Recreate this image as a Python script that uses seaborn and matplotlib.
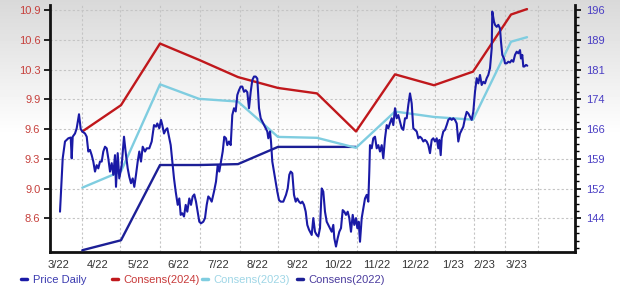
import numpy as np
import pandas as pd
import matplotlib
matplotlib.use("Agg")
import matplotlib.pyplot as plt
from matplotlib.lines import Line2D
from matplotlib.ticker import FixedLocator, AutoMinorLocator
import seaborn as sns

# ---------------- data ----------------
month_labels = ["3/22", "4/22", "5/22", "6/22", "7/22", "8/22", "9/22", "10/22",
                "11/22", "12/22", "1/23", "2/23", "3/23"]
label_pos = [9, 48, 88, 128, 168, 207, 247, 288, 327, 365, 403, 434, 466]
grid_pos = [32, 70, 110, 150, 190, 228, 268, 307, 346, 385, 424, 455, 488]

left_tick_labels = ["10.9", "10.6", "10.3", "9.9", "9.6", "9.3", "9.0", "8.6"]
right_tick_labels = ["196", "189", "181", "174", "166", "159", "152", "144"]

cons_pos = [32.3, 71, 110, 149, 188, 228, 267, 306, 345, 384, 423, 461, 477]
cons_2024 = [9.56, 9.85, 10.53, 10.35, 10.16, 10.04, 9.98, 9.56, 10.19, 10.07, 10.22, 10.85, 10.91]
cons_2023 = [8.94, 9.12, 10.08, 9.92, 9.89, 9.50, 9.49, 9.38, 9.78, 9.72, 9.69, 10.55, 10.60]
cons_2022 = [8.25, 8.36, 9.19, 9.19, 9.20, 9.39, 9.39, 9.39]

price_pos = [10.0, 12.7, 15.0, 18.3, 20.7, 21.7, 22.7, 25.0, 26.7, 29.0, 30.7, 32.3, 35.0, 36.7,
             38.3, 40.0, 41.7, 43.3, 45.0, 46.7, 48.3, 50.0, 51.7, 53.3, 55.0, 56.7, 58.3, 60.0,
             61.7, 63.3, 65.0, 66.0, 67.7, 69.3, 71.7, 74.0, 76.0, 77.7, 79.3, 81.0, 82.7, 84.3,
             86.0, 87.7, 89.3, 91.0, 92.7, 95.0, 96.7, 99.3, 101.7, 104.0, 106.0, 107.3, 109.3,
             111.0, 112.3, 114.0, 115.7, 117.3, 119.0, 120.7, 122.3, 124.0, 125.7, 127.7, 129.3,
             130.7, 132.3, 134.0, 135.7, 137.3, 139.3, 141.0, 142.7, 144.3, 146.0, 147.7, 149.3,
             151.0, 153.3, 155.0, 156.7, 158.3, 160.0, 161.7, 164.0, 166.0, 167.7, 169.3, 171.0,
             172.7, 174.3, 176.0, 177.3, 179.0, 180.7, 182.3, 184.0, 185.7, 187.3, 189.0, 190.7,
             192.3, 194.0, 195.7, 197.3, 199.0, 200.7, 202.3, 204.0, 205.7, 207.3, 209.0, 210.7,
             212.3, 214.0, 215.7, 217.3, 218.3, 220.0, 221.0, 222.3, 224.0, 225.7, 227.3, 229.0,
             230.7, 233.3, 236.0, 237.7, 239.3, 240.7, 242.3, 244.0, 245.7, 247.3, 249.0, 250.7,
             252.3, 254.0, 255.7, 257.3, 259.0,
             260.0, 261.7, 263.3, 265.0, 266.7, 268.3, 270.0, 271.7, 273.3, 275.0, 276.7, 278.3,
             280.0, 281.7, 283.3, 284.3, 286.0, 287.7, 289.3, 291.0, 292.7, 294.3, 296.0, 297.7,
             299.3, 301.0, 302.7, 304.3, 306.0, 307.3, 308.7, 310.0, 311.7, 313.3, 315.0, 316.7,
             318.3, 319.3, 320.0, 321.7, 323.3, 325.0, 326.7, 328.3, 330.0, 331.7, 333.3, 335.0,
             336.7, 338.3, 340.0, 341.7, 343.3, 345.0, 346.7, 348.3, 350.0, 351.7, 353.3, 355.0,
             356.7, 358.3, 360.0, 361.7, 363.3, 365.0, 366.7, 368.3, 370.0, 371.7, 373.3, 375.0,
             376.7, 378.3, 380.0, 381.7, 383.3, 385.0, 386.7, 388.3, 389.3, 390.7, 391.7, 393.3,
             395.0, 396.7, 398.3, 400.0, 401.7, 403.3, 405.0, 406.7, 408.3, 410.0, 411.7, 413.3,
             415.0, 416.7, 418.3, 420.0, 421.7, 423.3, 425.0, 426.7, 428.3, 430.0, 431.7, 433.3,
             435.0, 436.7, 438.3, 440.0, 441.7, 442.3, 444.0, 445.0, 446.7, 448.3, 450.0, 451.0,
             452.3, 454.0, 455.0, 456.7, 458.3, 460.0, 461.7, 463.3, 465.0, 466.7, 468.3, 470.0,
             471.0, 472.3, 473.3, 474.3, 476.0, 477.3]
price_val = [145.7, 159.0, 163.2, 164.0, 164.2, 159.0, 164.4, 165.2, 166.5, 170.0, 166.3, 165.7,
             165.2, 164.4, 160.7, 161.1, 159.8, 158.2, 155.7, 157.3, 156.5, 158.2, 158.2, 160.7,
             161.9, 161.5, 159.0, 155.7, 157.8, 154.9, 159.8, 151.9, 160.3, 154.0, 157.3, 164.4,
             159.8, 156.5, 154.4, 152.8, 154.0, 151.9, 154.9, 158.2, 160.7, 158.2, 161.9, 160.7,
             161.5, 161.5, 163.2, 167.3, 166.9, 167.7, 166.5, 168.6, 167.3, 165.2, 166.1, 166.5,
             164.4, 162.3, 158.2, 154.0, 150.7, 147.4, 149.0, 144.9, 145.3, 144.5, 147.4, 145.7,
             149.0, 147.4, 149.5, 150.0, 148.2, 145.7, 143.2, 142.8, 143.2, 144.1, 147.4, 149.5,
             149.0, 148.2, 150.7, 153.2, 157.3, 155.7, 158.2, 160.7, 164.4, 164.0, 162.3, 163.2,
             162.3, 169.8, 171.5, 170.7, 174.8, 176.0, 176.9, 176.9, 175.6, 176.0, 175.5, 171.5,
             175.6, 178.5, 179.4, 179.4, 178.9, 171.5, 169.0, 168.2, 167.3, 166.5, 165.7, 164.0,
             165.7, 163.2, 158.2, 155.7, 153.2, 150.7, 148.6, 148.2, 148.2, 149.9, 151.5, 154.9,
             155.7, 155.3, 149.9, 148.2, 149.0, 148.2, 147.8, 148.2, 147.4, 145.7, 142.4, 141.2,
             140.7, 139.9, 144.1, 140.7, 139.9, 139.5, 141.6, 151.5, 150.7, 145.7, 143.2, 142.4,
             141.6, 140.7, 142.4, 139.1, 137.0, 139.1, 140.7, 141.6, 146.1, 145.7, 144.9, 145.7,
             144.1, 140.7, 144.9, 142.4, 144.1, 141.6, 143.2, 138.2, 144.1, 146.5, 149.0, 149.9,
             148.2, 155.7, 162.3, 161.5, 164.0, 164.4, 161.5, 162.3, 160.7, 162.3, 159.0, 164.0,
             167.3, 166.5, 167.8, 169.0, 167.3, 171.5, 169.0, 169.8, 168.2, 166.5, 166.1, 169.0,
             169.0, 172.3, 175.2, 172.7, 166.5, 166.1, 165.7, 164.0, 164.4, 164.0, 163.2, 163.6,
             163.2, 162.3, 160.3, 163.6, 164.0, 163.2, 164.0, 161.5, 163.6, 159.8, 164.0, 165.7,
             166.1, 167.3, 168.6, 169.0, 168.6, 169.0, 168.6, 167.7, 163.2, 165.2, 166.1, 166.9,
             169.0, 170.6, 170.2, 169.4, 168.6, 170.6, 175.6, 179.0, 177.7, 179.8, 177.3, 178.1,
             177.7, 179.0, 179.8, 181.5, 186.4, 195.6, 193.1, 192.3, 191.8, 192.3, 191.4, 188.1,
             184.8, 183.9, 182.7, 182.7, 183.1, 182.9, 183.5, 183.1, 184.8, 185.6, 185.2, 186.0,
             183.9, 184.8, 181.9, 181.9, 182.3, 182.1]

# ---------------- style ----------------
sns.set_style("ticks")
plt.rcParams["font.family"] = ["Liberation Sans", "DejaVu Sans"]
plt.rcParams["font.size"] = 8

C_PRICE = "#1a1aa6"
C_2024 = "#c0181c"
C_2023 = "#7fcde0"
C_2022 = "#1c1f96"

W, H = 620, 294
fig = plt.figure(figsize=(W / 100, H / 100), dpi=100)

# background gradient (grey at top fading to white)
bg = fig.add_axes([0, 0, 1, 1], zorder=-10)
grad = np.ones((H, 1))
rows = np.arange(H)
grad[:, 0] = np.clip(0.85 + 0.15 * rows / 135.0, 0, 1)
bg.imshow(grad, aspect="auto", cmap="gray", vmin=0, vmax=1, extent=[0, 1, 0, 1], origin="upper")
bg.axis("off")

L, R_, T, B = 50, 575, 5, 252
ax = fig.add_axes([L / W, 1 - B / H, (R_ - L) / W, (B - T) / H])
ax.set_facecolor("none")
ax2 = ax.twinx()

# axis limits (left: consensus EPS, right: price)
lstep = 2.3 / 7
rstep = 52 / 7
px_l = 2.3 / 208.5
px_r = 52 / 208.5
ax.set_xlim(0, 525)
ax.set_ylim(10.9 - 242 * px_l, 10.9 + 5 * px_l)
ax2.set_ylim(196 - 242 * px_r, 196 + 5 * px_r)

left_ticks = [10.9 - k * lstep for k in range(8)]
right_ticks = [196 - k * rstep for k in range(8)]

df24 = pd.DataFrame({"pos": cons_pos, "eps": cons_2024})
df23 = pd.DataFrame({"pos": cons_pos, "eps": cons_2023})
df22 = pd.DataFrame({"pos": cons_pos[:len(cons_2022)], "eps": cons_2022})
dfp = pd.DataFrame({"pos": price_pos, "price": price_val})

sns.lineplot(data=df22, x="pos", y="eps", ax=ax, color=C_2022, lw=1.7, estimator=None, zorder=3)
sns.lineplot(data=df23, x="pos", y="eps", ax=ax, color=C_2023, lw=1.7, estimator=None, zorder=3)
sns.lineplot(data=df24, x="pos", y="eps", ax=ax, color=C_2024, lw=1.7, estimator=None, zorder=3)
sns.lineplot(data=dfp, x="pos", y="price", ax=ax2, color=C_PRICE, lw=1.5, estimator=None, zorder=4)

# grid
ax.xaxis.set_major_locator(FixedLocator(grid_pos))
ax.xaxis.set_minor_locator(FixedLocator(label_pos))
ax.set_xticklabels([""] * len(grid_pos))
ax.set_xticklabels(month_labels, minor=True)
ax.tick_params(axis="x", which="both", length=0, pad=6, labelsize=8, labelcolor="#333333")
ax.set_yticks(left_ticks)
ax.set_yticklabels(left_tick_labels)
ax.tick_params(axis="y", which="major", length=4, width=1.2, direction="out", pad=3,
               labelsize=8, labelcolor="#c6403c", color="black")
ax2.set_yticks(right_ticks)
ax2.set_yticklabels(right_tick_labels)
ax2.yaxis.set_minor_locator(AutoMinorLocator(4))
ax2.tick_params(axis="y", which="major", length=4, width=1.2, direction="out", pad=4,
                labelsize=8, labelcolor="#4a3ec4", color="black")
ax2.tick_params(axis="y", which="minor", length=3, width=1.0, direction="out", color="black")
ax.grid(True, which="major", axis="both", ls=(0, (2, 2)), color="#c4c4c4", lw=0.8)
ax2.grid(False)
ax.set_xlabel("")
ax.set_ylabel("")
ax2.set_ylabel("")

for a in (ax, ax2):
    a.spines["top"].set_visible(False)
    for s in ("left", "right", "bottom"):
        a.spines[s].set_linewidth(2)
        a.spines[s].set_color("#111111")
ax.spines["right"].set_visible(False)
ax2.spines["left"].set_visible(False)
ax2.spines["bottom"].set_visible(False)

# legend entries
entries = [("Price Daily", C_PRICE, "#3b3bb0", 21),
           ("Consens(2024)", C_2024, "#c83a3a", 112),
           ("Consens(2023)", C_2023, "#9fd6e6", 202),
           ("Consens(2022)", C_2022, "#4b3c9e", 297)]
for label, lc, tc, xpx in entries:
    h = Line2D([], [], color=lc, lw=2.5)
    lg = fig.legend([h], [label], loc="center left", bbox_to_anchor=(xpx / W, 1 - 280 / H),
                    frameon=False, handlelength=0.55, handletextpad=0.5, borderpad=0,
                    borderaxespad=0, fontsize=8)
    for t in lg.get_texts():
        t.set_color(tc)

fig.savefig("out.png", dpi=100)
